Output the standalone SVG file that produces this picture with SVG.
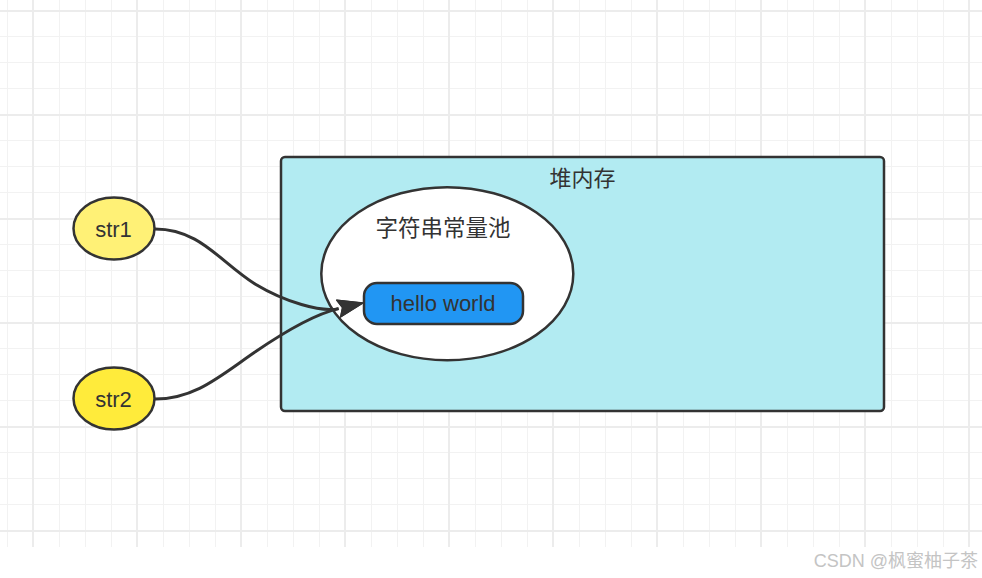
<svg xmlns="http://www.w3.org/2000/svg" width="982" height="578" viewBox="0 0 982 578">
  <defs>
    <pattern id="grid" patternUnits="userSpaceOnUse" x="32" y="10" width="104" height="104">
      <rect x="27" y="0" width="1" height="104" fill="#f2f2f2"/>
      <rect x="53" y="0" width="1" height="104" fill="#f2f2f2"/>
      <rect x="79" y="0" width="1" height="104" fill="#f2f2f2"/>
      <rect x="0" y="26" width="104" height="1" fill="#f2f2f2"/>
      <rect x="0" y="52" width="104" height="1" fill="#f2f2f2"/>
      <rect x="0" y="78" width="104" height="1" fill="#f2f2f2"/>
      <rect x="0" y="0" width="2" height="104" fill="#ececec"/>
      <rect x="0" y="0" width="104" height="2" fill="#ececec"/>
    </pattern>
    <marker id="arrow" markerUnits="userSpaceOnUse" markerWidth="32" markerHeight="24" viewBox="-3 -12 32 24" refX="0" refY="0" orient="auto">
      <path d="M25,0 L0,-8.7 L4,0 L0,8.7 Z" fill="#333333" stroke="#333333" stroke-width="1.2" stroke-linejoin="round"/>
    </marker>
    <style>
      .shape { stroke: #333333; stroke-width: 2.5; }
      .lbl { font-family: "Liberation Sans", "Noto Sans CJK SC", sans-serif; fill: #333333; text-anchor: middle; }
      .cjk { font-family: "Noto Sans CJK SC", "Liberation Sans", sans-serif; fill: #333333; text-anchor: middle; }
      .edge { fill: none; stroke: #333333; stroke-width: 3; }
    </style>
  </defs>

  <rect x="0" y="0" width="982" height="578" fill="#ffffff"/>
  <rect x="0" y="0" width="982" height="547" fill="url(#grid)"/>

  <g id="heap">
    <rect class="shape" x="281" y="157" width="603" height="254" rx="4" fill="#b2ebf2"/>
    <text class="cjk" x="582.5" y="186" font-size="22">堆内存</text>
  </g>

  <g id="pool">
    <ellipse class="shape" cx="447.3" cy="273.7" rx="126" ry="86.5" fill="#ffffff"/>
    <text class="cjk" x="443" y="236" font-size="22.5">字符串常量池</text>
  </g>

  <g id="hello">
    <rect class="shape" x="364" y="283" width="159" height="41" rx="13" fill="#2196f3"/>
    <text class="lbl" x="443" y="311" font-size="22">hello world</text>
  </g>

  <g id="str1">
    <ellipse class="shape" cx="114" cy="228.5" rx="40.5" ry="31" fill="#fff176"/>
    <text class="lbl" x="113.5" y="237" font-size="22">str1</text>
  </g>

  <g id="str2">
    <ellipse class="shape" cx="114" cy="398.5" rx="40.5" ry="31" fill="#ffeb3b"/>
    <text class="lbl" x="113.5" y="407" font-size="22">str2</text>
  </g>

  <g id="connectors">
    <path class="edge" d="M155,229 C200,229 220,262 255,284 C285,302 321,312.6 338.6,308.6" marker-end="url(#arrow)"/>
    <path class="edge" d="M155,399 C195,399 220,376 255,352 C290,328 317,313.6 338.6,308.6" marker-end="url(#arrow)"/>
  </g>

  <text x="978" y="567" font-size="18" font-family="Liberation Sans, Noto Sans CJK SC, sans-serif" fill="#c4c4c4" text-anchor="end">CSDN @枫蜜柚子茶</text>
</svg>
